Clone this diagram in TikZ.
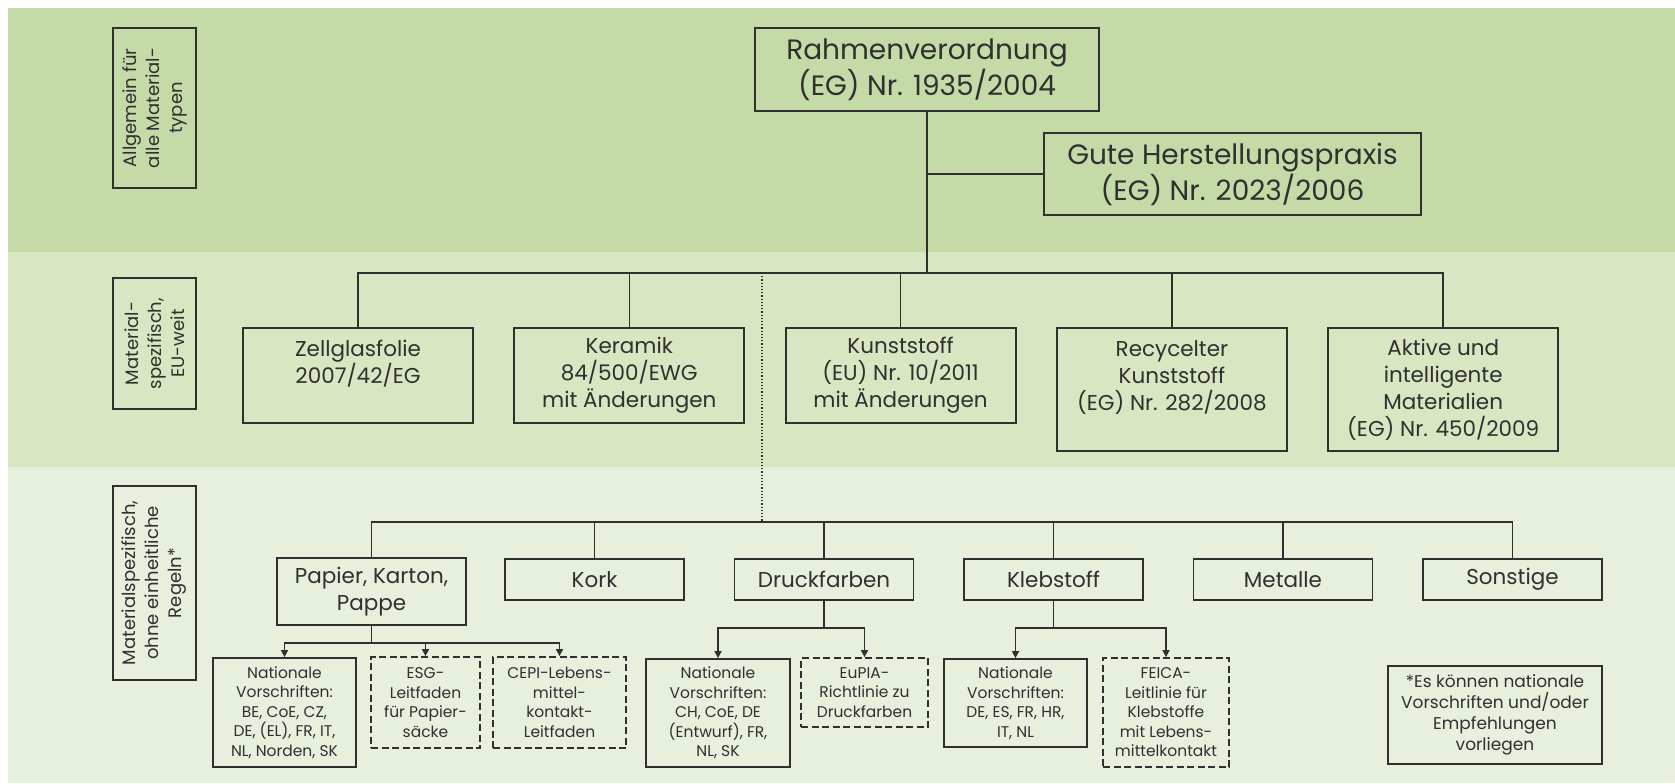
\documentclass[tikz,border=0pt]{standalone}
\usepackage{fontspec}
\setmainfont{Poppins}
\usepackage{tikz}
\usetikzlibrary{arrows.meta,positioning}

\definecolor{bandtop}{RGB}{196,219,168}
\definecolor{bandmid}{RGB}{216,230,194}
\definecolor{bandlow}{RGB}{231,240,221}
\definecolor{ink}{RGB}{48,48,48}

\newcommand{\sizetop}{\fontsize{14}{16.5}\selectfont}
\newcommand{\sizemid}{\fontsize{10.75}{13.5}\selectfont}
\newcommand{\sizeside}{\fontsize{9}{11.5}\selectfont}
\newcommand{\sizesmall}{\fontsize{7.75}{9.75}\selectfont}
\newcommand{\sizenote}{\fontsize{8.5}{10.5}\selectfont}

\begin{document}
\begin{tikzpicture}[
        x=0.5pt, y=-0.5pt,
        box/.style={draw=ink, line width=0.9pt, text=ink, align=center, inner sep=0pt},
        topbox/.style={box, font=\sizetop},
        midbox/.style={box, font=\sizemid, minimum width=115pt},
        sidebox/.style={box, font=\sizeside, rotate=90, minimum height=41.5pt},
        smallbox/.style={box, font=\sizesmall},
        guidebox/.style={smallbox, dash pattern=on 3.5pt off 1.75pt},
        link/.style={draw=ink, line width=0.8pt},
        feed/.style={link, -{Triangle[length=3.5pt, width=3.5pt]}}
    ]

    \useasboundingbox (0,0) rectangle (1675,783) ;
    \fill[white] (0,0) rectangle (1675,783) ;
    \fill[bandtop] (8,8) rectangle (1675,252) ;
    \fill[bandmid] (8,252) rectangle (1675,467) ;
    \fill[bandlow] (8,467) rectangle (1675,783) ;

    \node[sidebox, minimum width=80pt] (sideone) at (154.5,108) {Allgemein für\\alle Material-\\typen} ;
    \node[sidebox, minimum width=65.5pt] (sidetwo) at (154.5,343.5) {Material-\\spezifisch,\\EU-weit} ;
    \node[sidebox, minimum width=97pt] (sidethree) at (154.5,583) {Materialspezifisch,\\ohne einheitliche\\Regeln*} ;

    \node[topbox, minimum width=172pt, minimum height=41.5pt] (rahmen) at (927,69.5) {Rahmenverordnung\\(EG) Nr. 1935/2004} ;
    \node[topbox, minimum width=188.5pt, minimum height=41pt] (gute) at (1232.5,174) {Gute Herstellungspraxis\\(EG) Nr. 2023/2006} ;

    \node[midbox, minimum height=47.5pt] (zell) at (358,375.5) {Zellglasfolie\\2007/42/EG\\~} ;
    \node[midbox, minimum height=47.5pt, right=19.75pt of zell] (keramik) {Keramik\\84/500/EWG\\mit Änderungen} ;
    \node[midbox, minimum height=47.5pt, right=19.75pt of keramik] (kunst) {Kunststoff\\(EU) Nr. 10/2011\\mit Änderungen} ;
    \node[midbox, minimum height=61.5pt, right=19.75pt of kunst.north east, anchor=north west] (recyc) {Recycelter\\Kunststoff\\(EG) Nr. 282/2008\\~} ;
    \node[midbox, minimum height=61.5pt, right=19.75pt of recyc] (aktiv) {Aktive und\\intelligente\\Materialien\\(EG) Nr. 450/2009} ;

    \node[midbox, minimum width=94.5pt, minimum height=33.5pt] (pap) at (371.5,591.5) {Papier, Karton,\\Pappe} ;
    \foreach \n/\t [count=\i] in {kork/Kork, druck/Druckfarben, kleb/Klebstoff, metal/Metalle, sonst/Sonstige}
        \node[midbox, minimum width=89.5pt, minimum height=20.5pt] (\n) at ({594.5+229.5*(\i-1)},579.5) {\t} ;

    \node[smallbox, minimum width=71.5pt, minimum height=54.5pt] (natp) at (284.5,712.5) {Nationale\\Vorschriften:\\BE, CoE, CZ,\\DE, (EL), FR, IT,\\NL, Norden, SK} ;
    \node[guidebox, minimum width=54.5pt, minimum height=45.5pt] (esg) at (425.5,702.5) {ESG-\\Leitfaden\\für Papier-\\säcke} ;
    \node[guidebox, minimum width=66.5pt, minimum height=45.5pt] (cepi) at (559.5,702.5) {CEPI-Lebens-\\mittel-\\kontakt-\\Leitfaden} ;
    \node[smallbox, minimum width=72pt, minimum height=54pt] (natd) at (718,713) {Nationale\\Vorschriften:\\CH, CoE, DE\\(Entwurf), FR,\\NL, SK} ;
    \node[guidebox, minimum width=63.5pt, minimum height=34.5pt] (eupia) at (864.5,692.5) {EuPIA-\\Richtlinie zu\\Druckfarben} ;
    \node[smallbox, minimum width=71.5pt, minimum height=44pt] (natk) at (1015.5,703) {Nationale\\Vorschriften:\\DE, ES, FR, HR,\\IT, NL} ;
    \node[guidebox, minimum width=63pt, minimum height=54.5pt] (feica) at (1166,712.5) {FEICA-\\Leitlinie für\\Klebstoffe\\mit Lebens-\\mittelkontakt} ;
    \node[box, font=\sizenote, minimum width=107pt, minimum height=49pt] (note) at (1495,715) {*Es können nationale\\Vorschriften und/oder\\Empfehlungen\\vorliegen} ;

    \coordinate (ubus) at (927,273) ;
    \coordinate (kbus) at (762,273) ;
    \coordinate (lbus) at (762,522) ;

    \draw[link] (rahmen.south) -- (ubus) ;
    \draw[link] (gute.west) -- (gute.west -| rahmen.south) ;
    \foreach \n in {zell,keramik,kunst,recyc,aktiv}
        \draw[link] (ubus) -| (\n.north) ;
    \draw[draw=ink, line width=0.6pt, densely dotted] (kbus) -- (lbus) ;
    \foreach \n in {pap,kork,druck,kleb,metal,sonst}
        \draw[link] (lbus) -| (\n.north) ;

    \draw[link] (pap.south) -- ++(0,17) coordinate (papfork) ;
    \draw[link] (druck.south) -- ++(0,27) coordinate (druckfork) ;
    \draw[link] (kleb.south) -- ++(0,27) coordinate (klebfork) ;
    \foreach \n in {natp,esg,cepi}
        \draw[feed] (papfork) -| (\n.north) ;
    \foreach \n in {natd,eupia}
        \draw[feed] (druckfork) -| (\n.north) ;
    \foreach \n in {natk,feica}
        \draw[feed] (klebfork) -| (\n.north) ;

\end{tikzpicture}
\end{document}
